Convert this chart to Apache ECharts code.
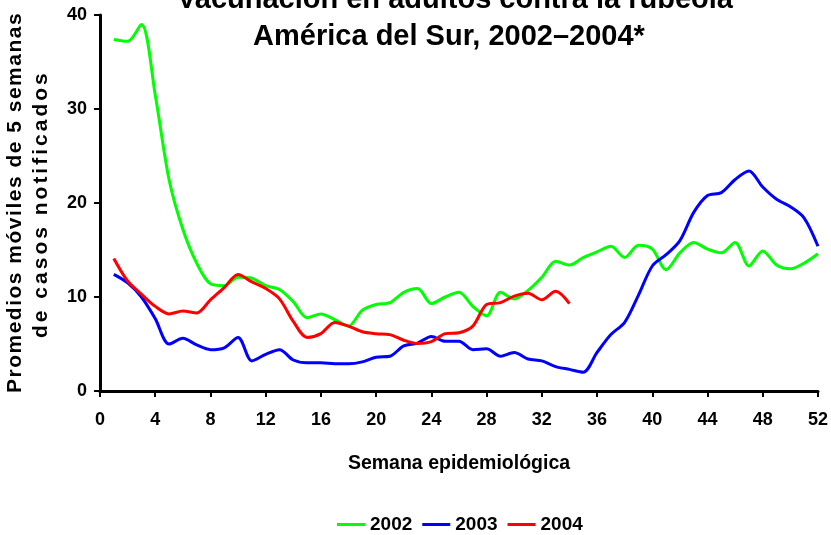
<!DOCTYPE html>
<html>
<head>
<meta charset="utf-8">
<script src="https://cdn.jsdelivr.net/npm/echarts@6/dist/echarts.min.js"></script>
<style>
html,body{margin:0;padding:0;background:#fff;}
#main{width:831px;height:535px;}
</style>
</head>
<body>
<div id="main"></div>
<script>
// semanas epidemiologicas
var weeks = [1,2,3,4,5,6,7,8,9,10,11,12,13,14,15,16,17,18,19,20,21,22,23,24,25,26,
    27,28,29,30,31,32,33,34,35,36,37,38,39,40,41,42,43,44,45,46,47,48,49,50,51,52];
var xTicks = [0,4,8,12,16,20,24,28,32,36,40,44,48,52];
var yTicks = [0,10,20,30,40];
var years = ['2002','2003','2004'];

var v2002 = [37.4,37.2,39.0,31.5,22.5,17.2,13.6,11.4,11.2,12.1,12.0,11.2,10.8,9.5,7.8,8.2,7.6,6.9,8.6,9.2,
    9.4,10.5,10.9,9.3,10.0,10.5,9.0,8.0,10.5,9.8,10.7,12.1,13.8,13.4,14.2,14.8,15.4,14.2,15.5,15.1,
    12.9,14.7,15.8,15.1,14.7,15.8,13.3,14.9,13.4,13.0,13.6,14.6];
var v2003 = [12.4,11.5,10.0,7.7,5.0,5.6,4.9,4.4,4.6,5.7,3.2,3.9,4.4,3.3,3.0,3.0,2.9,2.9,3.1,3.6,
    3.7,4.8,5.1,5.8,5.3,5.3,4.4,4.5,3.7,4.1,3.4,3.2,2.6,2.3,2.0,4.1,6.0,7.3,10.2,13.3,
    14.5,16.0,19.0,20.8,21.1,22.5,23.4,21.7,20.4,19.6,18.4,15.4];
var v2004 = [14.1,11.7,10.3,9.0,8.2,8.5,8.3,9.7,11.0,12.4,11.6,10.9,9.8,7.4,5.7,6.1,7.3,6.9,6.3,6.1,
    6.0,5.4,5.05,5.25,6.1,6.2,6.9,9.2,9.4,10.1,10.4,9.7,10.6,9.3];

var colors = ['#00ff00','#0000ff','#ff0000'];
var sans = "'Liberation Sans',Arial,sans-serif";
var yName1 = 'Promedios móviles de 5 semanas';
var yName2 = 'de casos notificados';

// titulo del eje y espaciado (letter-spacing del canvas, solo para esos dos textos)
var spaced = {};
spaced[yName1] = '1.5px';
spaced[yName2] = '3px';
var origFill = CanvasRenderingContext2D.prototype.fillText;
CanvasRenderingContext2D.prototype.fillText = function(t){
    if (!spaced[t]) return origFill.apply(this, arguments);
    var f = this.font;
    this.letterSpacing = spaced[t];
    this.font = f;
    origFill.apply(this, arguments);
    this.letterSpacing = '0px';
    this.font = f;
};

function pairs(vals){
    var out = [];
    for (var i = 0; i < vals.length; i++) out.push([weeks[i], vals[i]]);
    return out;
}

var myChart = echarts.init(document.getElementById('main'));
var allVals = [v2002, v2003, v2004];
var series = [];
for (var k = 0; k < years.length; k++) {
    series.push({
        name: years[k],
        type: 'line',
        smooth: 0.3,
        symbol: 'none',
        lineStyle: { width: 3, color: colors[k] },
        itemStyle: { color: colors[k] },
        data: pairs(allVals[k])
    });
}

var option = {
    animation: false,
    backgroundColor: '#fff',
    graphic: [
        { type: 'text', x: 455, y: 0, style: { text: 'Vacunación en adultos contra la rubéola',
            font: 'bold 29px ' + sans, fill: '#000', align: 'center', verticalAlign: 'middle' } },
        { type: 'text', x: 449, y: 37, style: { text: 'América del Sur, 2002\u20132004*',
            font: 'bold 29px ' + sans, fill: '#000', align: 'center', verticalAlign: 'middle' } },
        { type: 'text', x: 15, y: 393, rotation: Math.PI / 2, style: { text: yName1,
            font: 'bold 21px ' + sans, fill: '#000', align: 'left', verticalAlign: 'middle' } },
        { type: 'text', x: 41, y: 338, rotation: Math.PI / 2, style: { text: yName2,
            font: 'bold 21px ' + sans, fill: '#000', align: 'left', verticalAlign: 'middle' } }
    ],
    legend: {
        left: 337,
        top: 515,
        padding: 0,
        icon: 'rect',
        itemWidth: 28,
        itemHeight: 3,
        itemGap: 10,
        textStyle: { fontFamily: sans, fontWeight: 'bold', fontSize: 19, color: '#000' },
        data: years
    },
    grid: { left: 100, right: 10, top: 15, bottom: 144, containLabel: false },
    xAxis: {
        type: 'value',
        min: xTicks[0],
        max: xTicks[xTicks.length - 1],
        interval: 4,
        name: 'Semana epidemiológica',
        nameLocation: 'middle',
        nameGap: 63,
        nameTextStyle: { fontFamily: sans, fontWeight: 'bold', fontSize: 19.5, color: '#000' },
        axisLine: { lineStyle: { color: '#000', width: 3 } },
        axisTick: { length: 6, lineStyle: { color: '#000', width: 2 } },
        axisLabel: { margin: 20, fontFamily: sans, fontWeight: 'bold', fontSize: 18, color: '#000' },
        splitLine: { show: false }
    },
    yAxis: {
        type: 'value',
        min: yTicks[0],
        max: yTicks[yTicks.length - 1],
        interval: 10,
        axisLine: { show: true, lineStyle: { color: '#000', width: 3 } },
        axisTick: { show: true, length: 6, lineStyle: { color: '#000', width: 2 } },
        axisLabel: { margin: 13, fontFamily: sans, fontWeight: 'bold', fontSize: 18, color: '#000' },
        splitLine: { show: false }
    },
    series: series
};
myChart.setOption(option);
</script>
</body>
</html>
